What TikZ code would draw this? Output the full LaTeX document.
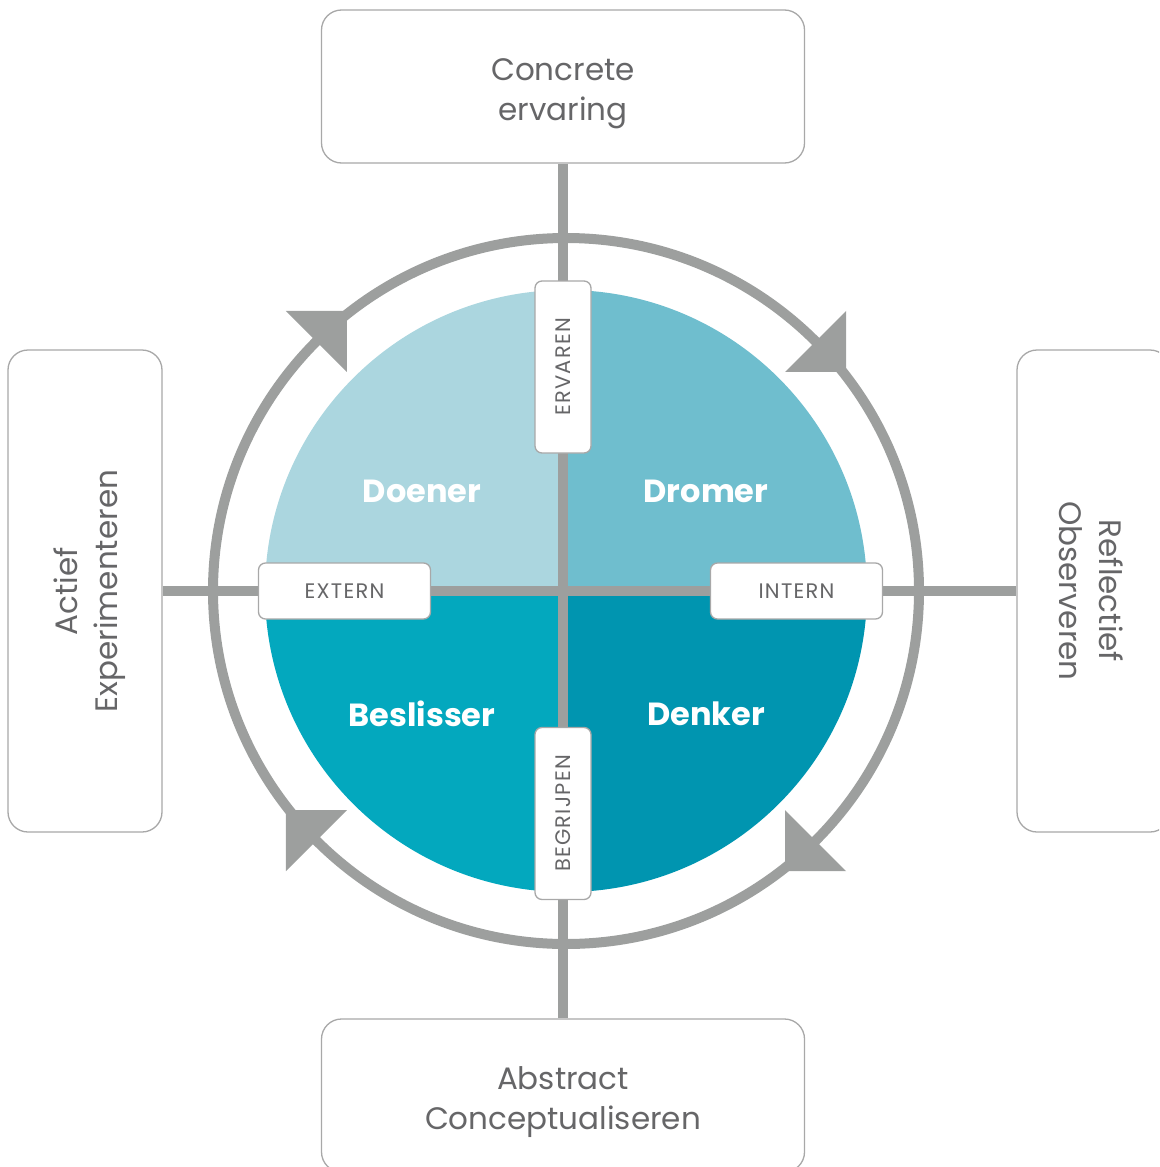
\documentclass[tikz,border=0pt]{standalone}
\usepackage{fontspec}
\setmainfont{Poppins}
\usetikzlibrary{calc}
\definecolor{ringgray}{RGB}{157,159,158}
\definecolor{boxline}{RGB}{168,168,168}
\definecolor{txtgray}{RGB}{102,102,104}
\definecolor{qtl}{RGB}{171,214,223}
\definecolor{qtr}{RGB}{111,190,206}
\definecolor{qbl}{RGB}{3,168,190}
\definecolor{qbr}{RGB}{0,149,176}
\begin{document}
\begin{tikzpicture}[x=1pt,y=-1pt,
  bigbox/.style={draw=boxline, line width=1.3pt, fill=white, rounded corners=20pt, inner sep=0pt},
  boxtext/.style={text=txtgray, align=center, font=\fontsize{31}{40}\selectfont},
  tagbox/.style={draw=boxline, line width=1.3pt, fill=white, rounded corners=7pt, inner sep=0pt,
    minimum width=172pt, minimum height=56pt, text=txtgray, font=\fontsize{21}{24}\selectfont\addfontfeature{LetterSpace=6}},
  conn/.style={draw=ringgray, line width=10pt},
  quad/.style={text=white, font=\fontsize{32}{36}\selectfont\bfseries}
]
\useasboundingbox (0,0) rectangle (1159,1167);
\clip (0,0) rectangle (1159,1167);
\coordinate (C) at (566,591);

% quadrants
\fill[qtl] (C) -- ($(C)+(180:301)$) arc[start angle=180, end angle=270, radius=301] -- cycle;
\fill[qtr] (C) -- ($(C)+(270:301)$) arc[start angle=270, end angle=360, radius=301] -- cycle;
\fill[qbr] (C) -- ($(C)+(0:301)$) arc[start angle=0, end angle=90, radius=301] -- cycle;
\fill[qbl] (C) -- ($(C)+(90:301)$) arc[start angle=90, end angle=180, radius=301] -- cycle;

% outer boxes
\node[bigbox, minimum width=483pt, minimum height=153pt] (tbox) at (563,86.5) {};
\node[bigbox, minimum width=483pt, minimum height=153pt] (bbox) at (563,1095.5) {};
\node[bigbox, minimum width=154pt, minimum height=482pt] (lbox) at (85,591) {};
\node[bigbox, minimum width=153pt, minimum height=482pt] (rbox) at (1093.5,591) {};

% connectors
\draw[conn] (tbox.south) -- (bbox.north);
\draw[conn] (lbox.east) -- (rbox.west);

% ring and arrows
\draw[ringgray, line width=10pt] (C) circle[radius=353];
\foreach \a in {45,135,225,315}
  \fill[ringgray] ($(C)+(\a:310)$) -- ($(C)+(\a:353)+(\a+90:43)$) -- ($(C)+(\a:396)$) -- cycle;

% box texts
\node[boxtext] (ttext) at (563,94) {Concrete\\ervaring};
\node[boxtext] (btext) at (563,1102) {Abstract\\Conceptualiseren};
\node[boxtext, rotate=90] (ltext) at (90,591) {Actief\\Experimenteren};
\node[boxtext, rotate=-90] (rtext) at (1091,591) {Reflectief\\Observeren};

% tags
\node[tagbox, rotate=90] (ervaren) at (563,367) {ERVAREN};
\node[tagbox, rotate=90] (begrijpen) at (563,813.5) {BEGRIJPEN};
\node[tagbox] (extern) at (344.5,591) {EXTERN};
\node[tagbox] (intern) at (796.5,591) {INTERN};

% quadrant labels
\node[quad] (doener) at (422,491) {Doener};
\node[quad] (dromer) at (706,491) {Dromer};
\node[quad] (beslisser) at (422,714) {Beslisser};
\node[quad] (denker) at (706,714) {Denker};
\end{tikzpicture}
\end{document}
